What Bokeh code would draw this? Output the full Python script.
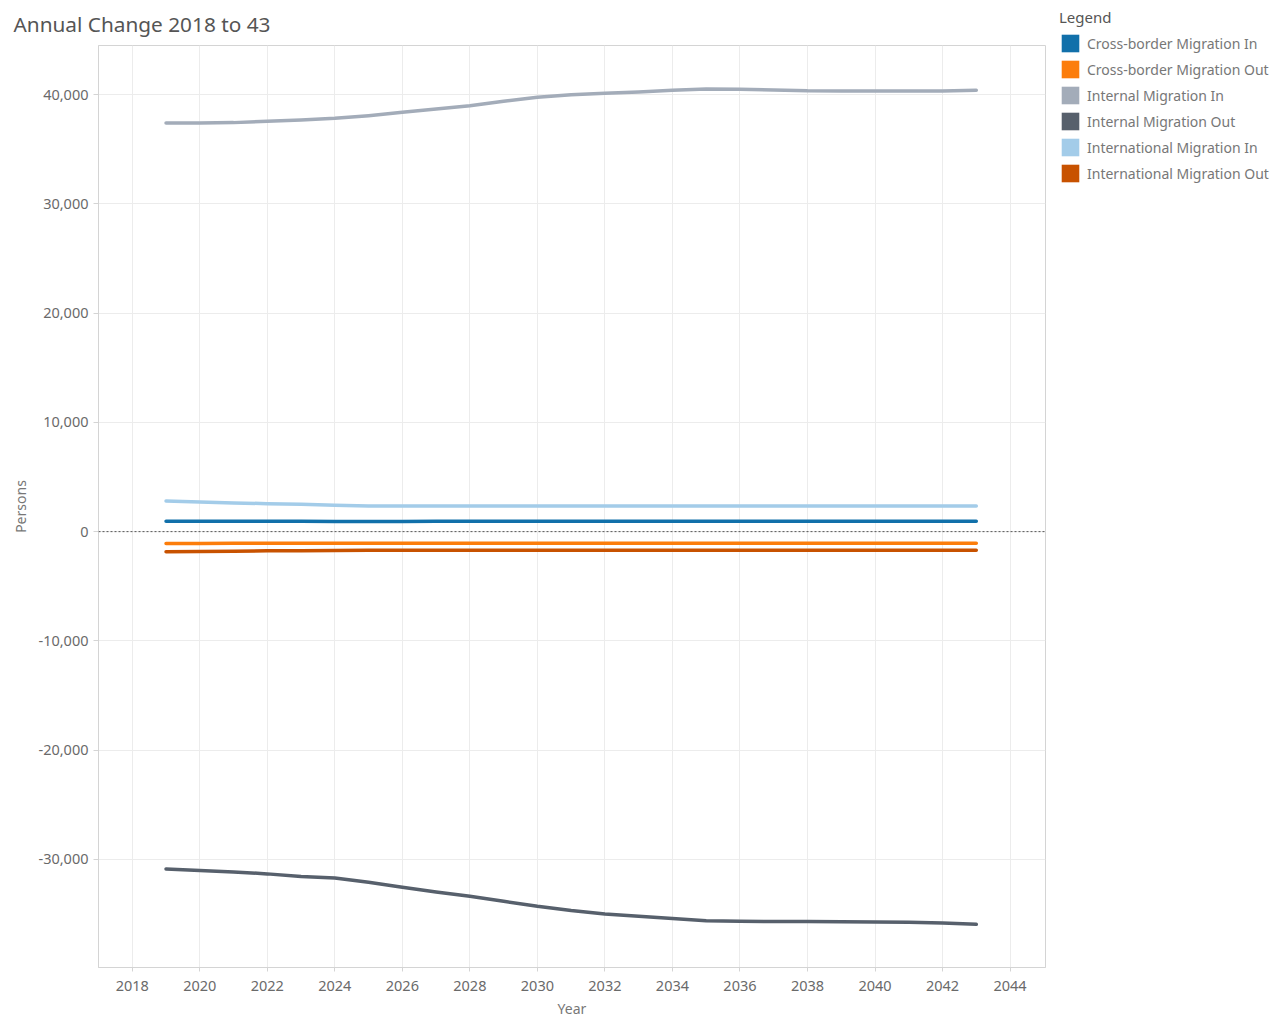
from bokeh.plotting import figure
from bokeh.layouts import row
from bokeh.models import (ColumnDataSource, FixedTicker, NumeralTickFormatter, Legend, LegendItem,
                          Span, Range1d)
from bokeh.embed import file_html
from bokeh.resources import INLINE

years = list(range(2019, 2044))

cross_border_in = [960, 960, 950, 945, 940, 935, 930, 935, 940, 945, 950, 955, 955,
                   960, 960, 960, 955, 950, 950, 950, 945, 945, 945, 940, 940]
cross_border_out = [-1090, -1080, -1075, -1070, -1065, -1060, -1060, -1060, -1060, -1060,
                    -1060, -1060, -1060, -1060, -1060, -1060, -1060, -1060, -1060, -1060,
                    -1060, -1060, -1060, -1060, -1060]
internal_in = [37410, 37400, 37440, 37560, 37680, 37830, 38080, 38380, 38690, 38990,
               39390, 39760, 40000, 40120, 40250, 40400, 40520, 40490, 40430, 40350,
               40340, 40340, 40330, 40340, 40400]
internal_out = [-30875, -31030, -31150, -31330, -31580, -31700, -32100, -32560, -32980,
                -33380, -33840, -34300, -34690, -35000, -35210, -35420, -35610, -35670,
                -35700, -35700, -35710, -35730, -35760, -35820, -35950]
international_in = [2810, 2720, 2630, 2560, 2500, 2410, 2350, 2345, 2340, 2340, 2340,
                    2340, 2345, 2345, 2345, 2345, 2345, 2345, 2345, 2345, 2345, 2345,
                    2345, 2345, 2350]
international_out = [-1850, -1820, -1790, -1760, -1740, -1720, -1700, -1700, -1700, -1700,
                     -1700, -1700, -1700, -1700, -1700, -1700, -1700, -1700, -1700, -1700,
                     -1700, -1700, -1705, -1705, -1710]

series_names = ["Cross-border Migration In", "Cross-border Migration Out", "Internal Migration In",
                "Internal Migration Out", "International Migration In", "International Migration Out"]
series_values = [cross_border_in, cross_border_out, internal_in, internal_out,
                 international_in, international_out]
series_colors = ["#1170aa", "#fc7d0b", "#a3acb9", "#57606c", "#a3cce9", "#c85200"]

x_ticks = list(range(2018, 2045, 2))
y_ticks = list(range(-30000, 40001, 10000))

FONT = "Noto Sans"
GRID = "#ececec"
BORDER = "#d4d4d4"

W, H = 1046, 1020
p = figure(width=W, height=H, output_backend="svg", toolbar_location=None,
           x_range=(2017.0, 2045.05), y_range=(-39900, 44500),
           min_border_left=98, min_border_right=1, min_border_top=45,
           min_border_bottom=H - 967)

p.background_fill_color = "white"
p.border_fill_color = "white"
p.outline_line_color = BORDER

# title
p.title.text = "Annual Change 2018 to 43"
p.title.text_font = FONT
p.title.text_font_size = "20.8px"
p.title.text_color = "#555555"
p.title.text_font_style = "normal"
p.title.align = "left"
p.title.offset = -85
p.title.standoff = 15

# axes
p.xaxis.ticker = FixedTicker(ticks=x_ticks)
p.yaxis.ticker = FixedTicker(ticks=y_ticks)
p.yaxis.formatter = NumeralTickFormatter(format="0,0")
for ax in (p.xaxis[0], p.yaxis[0]):
    ax.axis_line_color = BORDER
    ax.major_tick_line_color = BORDER
    ax.minor_tick_line_color = None
    ax.major_tick_in = 0
    ax.major_label_text_font = FONT
    ax.major_label_text_font_size = "14.5px"
    ax.major_label_text_color = "#6a6a6a"
    ax.axis_label_text_font = FONT
    ax.axis_label_text_font_size = "14px"
    ax.axis_label_text_color = "#777777"
    ax.axis_label_text_font_style = "normal"
p.xaxis.major_tick_out = 4
p.xaxis.major_label_standoff = 9
p.xaxis.axis_label = "Year"
p.xaxis.axis_label_standoff = 5
p.yaxis.major_tick_out = 5
p.yaxis.major_label_standoff = 5
p.yaxis.axis_label = "Persons"
p.yaxis.axis_label_standoff = 5

p.xgrid.grid_line_color = GRID
p.ygrid.grid_line_color = GRID

# zero line
p.add_layout(Span(location=0, dimension="width", line_color="#555555", line_width=1,
                  line_dash="2 2"))

# series
for name, vals, col in zip(series_names, series_values, series_colors):
    src = ColumnDataSource(dict(x=years, y=vals))
    p.line("x", "y", source=src, line_color=col, line_width=3.5, line_join="round",
           line_cap="round")

# legend panel (separate figure to the right of the chart)
LW = 230
lg = figure(width=LW, height=H, output_backend="svg", toolbar_location=None,
            x_axis_type=None, y_axis_type=None, min_border=0,
            x_range=Range1d(0, 1), y_range=Range1d(0, 1))
lg.outline_line_color = None
lg.grid.grid_line_color = None
lg.background_fill_color = "white"
lg.border_fill_color = "white"

items = []
for name, vals, col in zip(series_names, series_values, series_colors):
    # zero-area swatch renderer (used only for the legend glyph)
    r = lg.quad(left=[years[0]], right=[years[0]], top=[vals[0]], bottom=[vals[0]],
                fill_color=col, line_color=None)
    items.append(LegendItem(label=name, renderers=[r]))

legend = Legend(items=items, location=(13, 783), title="Legend",
                title_text_font=FONT, title_text_font_size="15px", title_text_color="#555555",
                title_text_font_style="normal", title_standoff=5,
                label_text_font=FONT, label_text_font_size="14px", label_text_color="#777777",
                glyph_width=22, glyph_height=22, label_height=22, spacing=4,
                label_standoff=6, padding=0, margin=0,
                background_fill_alpha=0, border_line_color=None)
lg.add_layout(legend, "left")

layout = row(p, lg)
open("out.html", "w").write(file_html(layout, INLINE))
